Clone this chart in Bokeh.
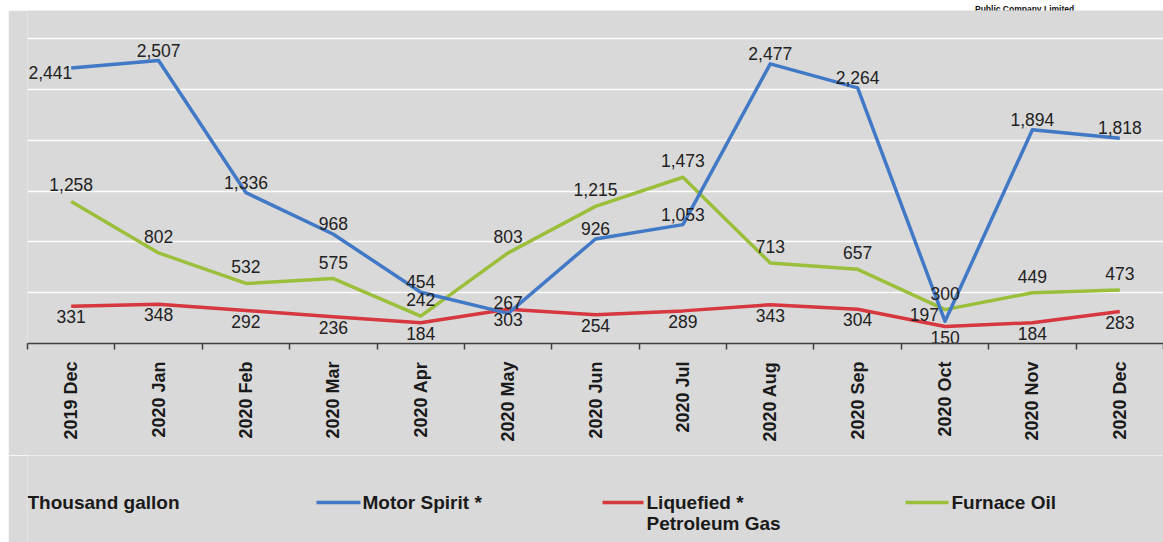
import math
from bokeh.plotting import figure
from bokeh.models import Range1d, FixedTicker, ColumnDataSource, Grid, Div
from bokeh.layouts import column
from bokeh.core.properties import value
from bokeh.embed import file_html
from bokeh.resources import INLINE

# ---------------- data ----------------
months = ["2019 Dec", "2020 Jan", "2020 Feb", "2020 Mar", "2020 Apr", "2020 May",
          "2020 Jun", "2020 Jul", "2020 Aug", "2020 Sep", "2020 Oct", "2020 Nov", "2020 Dec"]
motor_spirit = [2441, 2507, 1336, 968, 454, 267, 926, 1053, 2477, 2264, 197, 1894, 1818]
lpg = [331, 348, 292, 236, 184, 303, 254, 289, 343, 304, 150, 184, 283]
furnace_oil = [1258, 802, 532, 575, 242, 803, 1215, 1473, 713, 657, 300, 449, 473]
unit_label = "Thousand gallon"
name_ms = "Motor Spirit *"
name_lpg = ["Liquefied *", "Petroleum Gas"]
name_fo = "Furnace Oil"
header_text = "Public Company Limited"
grid_values = [450, 900, 1350, 1800, 2250, 2700]

# ---------------- styles ----------------
BG = "#d9d9d9"
C_MS = "#4179c6"
C_LPG = "#d7373f"
C_FO = "#9cbf3b"
FONT = "Liberation Sans"
LEFT = 8          # white strip on the left
TOP = 10          # white strip on top
W = 1163 - LEFT
H1 = 445
H2 = 542 - TOP - H1
FRAME_L = 19

xs = list(range(len(months)))

header = Div(
    text=(f'<div style="position:relative; top:0px; left:975px; white-space:nowrap; '
          f'font-family:\'{FONT}\'; font-weight:bold; font-size:8.5px; line-height:10px; '
          f'color:#111;">{header_text}</div>'),
    width=1163, height=TOP, margin=0)

p = figure(width=W, height=H1, x_range=Range1d(-0.5, len(months) - 0.5),
           y_range=Range1d(0, 2950), output_backend="svg", toolbar_location=None,
           y_axis_location=None, background_fill_color=BG, border_fill_color=BG,
           outline_line_color=None, min_border_left=FRAME_L, min_border_right=0,
           min_border_top=0, min_border_bottom=112, margin=(0, 0, 0, LEFT))

p.grid.visible = False
p.add_layout(Grid(dimension=1, ticker=FixedTicker(ticks=grid_values),
                  grid_line_color="white", grid_line_width=1.5), "center")

ax = p.xaxis[0]
ax.ticker = FixedTicker(ticks=xs, minor_ticks=[i - 0.5 for i in range(len(months) + 1)])
ax.major_label_overrides = {i: m for i, m in enumerate(months)}
ax.major_label_orientation = math.pi / 2
ax.major_tick_line_color = None
ax.major_tick_out = 0
ax.major_tick_in = 0
ax.minor_tick_out = 6
ax.minor_tick_in = 0
ax.minor_tick_line_color = "#404040"
ax.minor_tick_line_width = 1.5
ax.axis_line_color = "#404040"
ax.axis_line_width = 1.5
ax.major_label_text_font = FONT
ax.major_label_text_font_style = "bold"
ax.major_label_text_font_size = "18px"
ax.major_label_text_color = "#1a1a1a"
ax.major_label_standoff = 12

p.line(xs, lpg, line_color=C_LPG, line_width=3.5, line_join="round")
p.line(xs, furnace_oil, line_color=C_FO, line_width=3.5, line_join="round")
p.line(xs, motor_spirit, line_color=C_MS, line_width=3.5, line_join="round")

def fmt(v):
    return f"{v:,}"

label_kw = dict(text_font=value(FONT), text_font_size=value("17.5px"), text_color="#222222")

# LPG labels below
p.text(x=xs, y=lpg, text=[fmt(v) for v in lpg], text_align="center",
       text_baseline="top", y_offset=4, **label_kw)
# Furnace oil labels above
p.text(x=xs, y=furnace_oil, text=[fmt(v) for v in furnace_oil], text_align="center",
       text_baseline="bottom", y_offset=-10, **label_kw)
# Motor spirit labels: above, except first point and the October dip (to the left)
ms_align, ms_xoff, ms_yoff, ms_base = [], [], [], []
for i, v in enumerate(motor_spirit):
    if i == 0:
        ms_align.append("right"); ms_xoff.append(1); ms_yoff.append(5); ms_base.append("middle")
    elif v == min(motor_spirit):
        ms_align.append("right"); ms_xoff.append(-6); ms_yoff.append(0); ms_base.append("bottom")
    else:
        ms_align.append("center"); ms_xoff.append(0); ms_yoff.append(-4); ms_base.append("bottom")
ms_src = ColumnDataSource(dict(x=xs, y=motor_spirit, t=[fmt(v) for v in motor_spirit],
                               a=ms_align, xo=ms_xoff, yo=ms_yoff, b=ms_base))
p.text(x="x", y="y", text="t", text_align="a", x_offset="xo", y_offset="yo",
       text_baseline="b", source=ms_src, **label_kw)

# ---------------- legend strip (ranges in page pixels) ----------------
y0 = TOP + H1
p2 = figure(width=W, height=H2, x_range=Range1d(LEFT + FRAME_L, 1163),
            y_range=Range1d(y0 + H2, y0),
            output_backend="svg", toolbar_location=None, x_axis_location=None,
            y_axis_location=None, background_fill_color=BG, border_fill_color=BG,
            outline_line_color=None, min_border_left=FRAME_L, min_border_right=0,
            min_border_top=0, min_border_bottom=0, margin=(0, 0, 0, LEFT))
p2.grid.visible = False

leg_kw = dict(text_font=value(FONT), text_font_size=value("19px"), text_font_style="bold",
              text_color="#1a1a1a", text_baseline="middle", text_align="left")
row_y = 502
p2.text(x=[LEFT + FRAME_L], y=[row_y], text=[unit_label], **leg_kw)
p2.segment(x0=[316, 602, 905], y0=[row_y] * 3, x1=[360, 643, 948], y1=[row_y] * 3,
           line_color=[C_MS, C_LPG, C_FO], line_width=3.5)
p2.text(x=[362], y=[row_y], text=[name_ms], **leg_kw)
p2.text(x=[646, 646], y=[row_y, row_y + 21], text=name_lpg, **leg_kw)
p2.text(x=[951], y=[row_y], text=[name_fo], **leg_kw)

layout = column(header, p, p2, spacing=0)
open("out.html", "w").write(file_html(layout, INLINE))
